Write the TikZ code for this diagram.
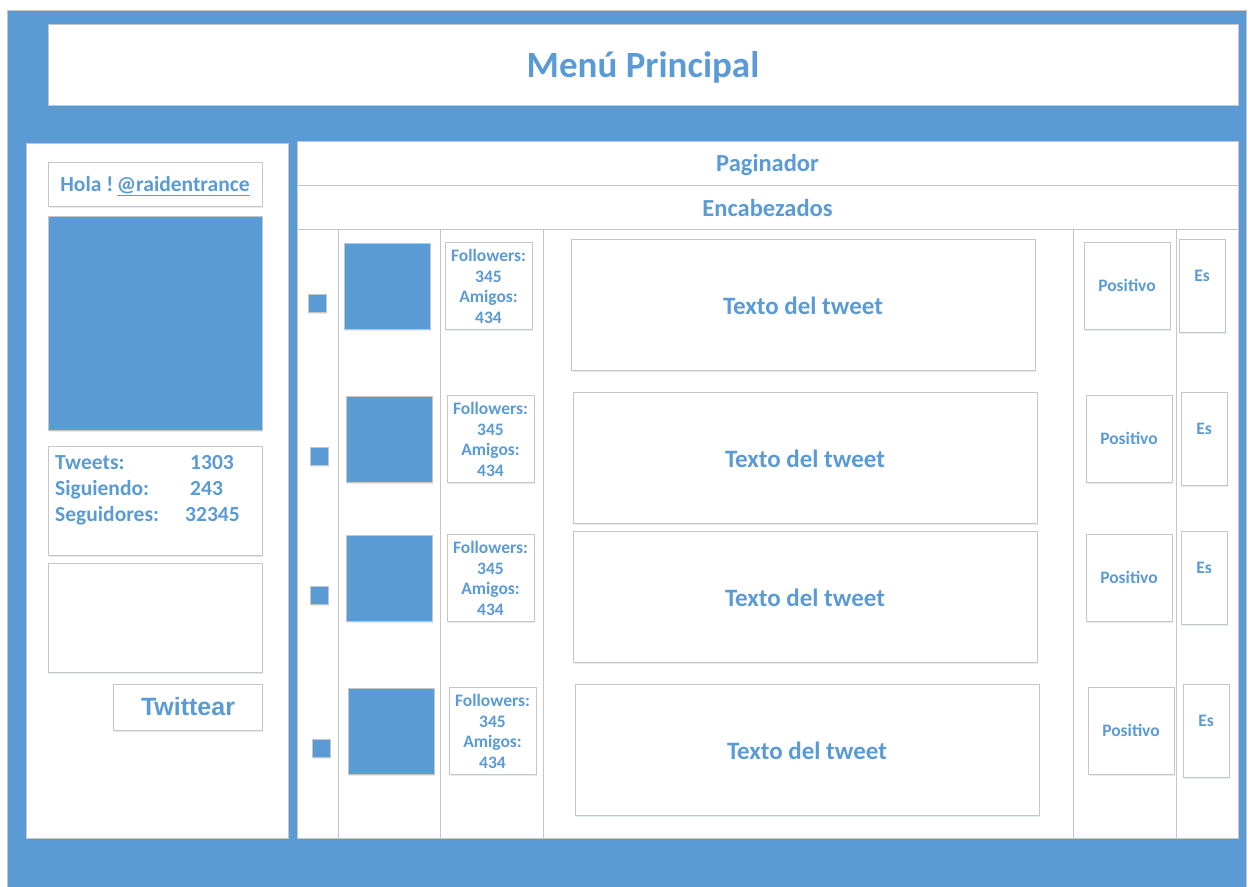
\documentclass[tikz,border=0pt]{standalone}
\usepackage{fontspec}
\setmainfont{Carlito}
\newfontfamily\arialfont{Liberation Sans}
\usetikzlibrary{shadows}
\definecolor{mblue}{HTML}{5B9BD5}
\definecolor{bordergray}{HTML}{C6C6C6}
\newcommand\rbox[7]{\node[#6, anchor=north west, minimum width={(#4-#2)*1pt}, minimum height={(#5-#3)*1pt}] (#1) at (#2,#3) {#7};}
\tikzset{
  base/.style={draw=bordergray, line width=1pt, inner sep=0pt, outer sep=0pt},
  wbox/.style={base, fill=white},
  sbox/.style={base, fill=white, drop shadow={shadow xshift=1pt, shadow yshift=-2pt, fill=mblue, opacity=0.18}},
  bbox/.style={base, fill=mblue, drop shadow={shadow xshift=1pt, shadow yshift=-2pt, fill=mblue, opacity=0.18}},
  txt/.style={text=mblue, font=\bfseries, inner sep=0pt},
  grid/.style={draw=bordergray, line width=0.8pt},
  fol/.style={txt, font=\bfseries\fontsize{17.5}{20.5}\selectfont, align=center},
}
\begin{document}
\begin{tikzpicture}[x=1pt,y=-1pt]
\useasboundingbox (0,0) rectangle (1252,886);
\fill[white] (0,0) rectangle (1252,886);
% background
\rbox{bg}{7}{10}{1246}{900}{base, fill=mblue}{}
% title
\rbox{title}{48}{24}{1238}{105}{wbox}{}
\node[txt, font=\bfseries\fontsize{37}{42}\selectfont] (titletxt) at ([yshift=-3pt]title.center) {Menú Principal};
% left panel
\rbox{left}{26}{143}{288}{838}{wbox}{}
\rbox{hola}{48}{162}{262}{206}{sbox}{}
\node[txt, font=\bfseries\fontsize{21.5}{26}\selectfont] (holatxt) at ([yshift=-2pt]hola.center) {Hola !\,\underline{@raidentrance}};
\rbox{avatar}{48}{216}{262}{430}{bbox}{}
\rbox{stats}{48}{446}{262}{555}{sbox}{}
\begin{scope}[every node/.style={txt, font=\bfseries\fontsize{21.5}{25}\selectfont}]
\node[anchor=base west] (l1) at (55,469) {Tweets:};
\node[anchor=base west] (l2) at (55,495) {Siguiendo:};
\node[anchor=base west] (l3) at (55,521) {Seguidores:};
\node[anchor=base west] (v1) at (190,469) {1303};
\node[anchor=base west] (v2) at (190,495) {243};
\node[anchor=base west] (v3) at (185,521) {32345};
\end{scope}
\rbox{compose}{48}{563}{262}{672}{sbox}{}
\rbox{tw}{113}{684}{262}{730}{sbox}{}
\node[txt, font=\arialfont\bfseries\fontsize{25}{29}\selectfont] (twtxt) at (188,707) {Twittear};
% right panel
\rbox{right}{297}{141}{1238}{838}{wbox}{}
\rbox{pag}{297}{141}{1238}{185}{wbox}{}
\node[txt, font=\bfseries\fontsize{24.5}{28}\selectfont] (pagtxt) at ([yshift=-2pt]pag.center) {Paginador};
\rbox{enc}{297}{185}{1238}{229}{wbox}{}
\node[txt, font=\bfseries\fontsize{24.5}{28}\selectfont] (enctxt) at ([yshift=-1pt]enc.center) {Encabezados};
\foreach \cx in {338,440,543,1073,1176} {
  \draw[grid] (\cx,229) -- (\cx,838);
}
% rows: dy shift, x shift
\foreach \r/\dy/\dx in {1/0/0, 2/153/2, 3/292/2, 4/445/4} {
  \begin{scope}[shift={(\dx,\dy)}]
    \rbox{chk\r}{308}{294}{326}{312}{bbox}{}
    \rbox{img\r}{344}{243}{430}{329}{bbox}{}
    \rbox{fol\r}{445}{242}{532}{329}{sbox}{}
    \node[fol] (foltxt\r) at ([yshift=-1pt]fol\r.center) {Followers:\\345\\Amigos:\\434};
    \rbox{tweet\r}{571}{239}{1035}{370}{sbox}{}
    \node[txt, font=\bfseries\fontsize{25}{29}\selectfont] (tweettxt\r) at ([yshift=-1pt]tweet\r.center) {Texto del tweet};
    \rbox{pos\r}{1084}{242}{1170}{329}{sbox}{}
    \node[txt, font=\bfseries\fontsize{17.5}{20}\selectfont] (postxt\r) at (pos\r.center) {Positivo};
    \rbox{es\r}{1179}{239}{1225}{332}{sbox}{}
    \node[txt, font=\bfseries\fontsize{17.5}{20}\selectfont] (estxt\r) at (1202,276) {Es};
  \end{scope}
}
\end{tikzpicture}
\end{document}
